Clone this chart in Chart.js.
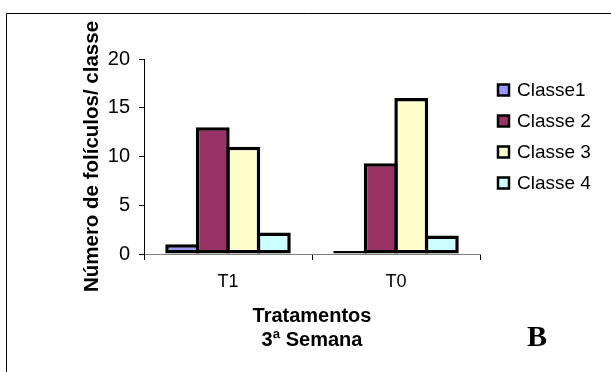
<!DOCTYPE html>
<html>
<head>
<meta charset="utf-8">
<script src="https://cdn.jsdelivr.net/npm/chart.js@4/dist/chart.umd.min.js"></script>
<style>
  html, body { margin: 0; padding: 0; background: #fff; }
  #wrap { width: 611px; height: 372px; position: relative; }
</style>
</head>
<body>
<div id="wrap"><canvas id="c" width="611" height="372"></canvas></div>
<script>
// Follicle counts per class, third week, by treatment
const categories = ['T1', 'T0'];
const seriesNames = ['Classe1', 'Classe 2', 'Classe 3', 'Classe 4'];
const classe1 = [1, 0.3];
const classe2 = [13, 9.3];
const classe3 = [11, 16];
const classe4 = [2.2, 1.9];
const yTicks = [0, 5, 10, 15, 20];
const yTitle = 'Número de folículos/ classe';
const xTitle = ['Tratamentos', '3ª Semana'];
const panelLetter = 'B';

const seriesColors = ['#9999FF', '#993366', '#FFFFCC', '#CCFFFF'];
const SANS = 'Arial, "Liberation Sans", sans-serif';

const seriesValues = [classe1, classe2, classe3, classe4];
const datasets = seriesNames.map((name, i) => ({
  label: name,
  data: seriesValues[i],
  backgroundColor: seriesColors[i],
  borderColor: '#000',
  borderWidth: 3.5,
  borderSkipped: false,
  categoryPercentage: 0.727,
  barPercentage: 1.11
}));

// Frame, legend and panel letter
const decorations = {
  id: 'decorations',
  beforeDraw(chart) {
    const ctx = chart.ctx;
    ctx.save();
    ctx.fillStyle = '#fff';
    ctx.fillRect(0, 0, chart.width, chart.height);
    ctx.strokeStyle = '#000';
    ctx.lineWidth = 1;
    ctx.beginPath();
    ctx.moveTo(6.5, chart.height);
    ctx.lineTo(6.5, 13.5);
    ctx.lineTo(chart.width, 13.5);
    ctx.stroke();
    ctx.restore();
  },
  afterDraw(chart) {
    const ctx = chart.ctx;
    ctx.save();
    const x0 = 498, y0 = 90, step = 31, box = 11;
    chart.data.datasets.forEach((ds, i) => {
      const cy = y0 + i * step;
      ctx.fillStyle = ds.backgroundColor;
      ctx.fillRect(x0, cy - box / 2, box, box);
      ctx.strokeStyle = '#000';
      ctx.lineWidth = 2.5;
      ctx.strokeRect(x0, cy - box / 2, box, box);
      ctx.fillStyle = '#000';
      ctx.font = '19px ' + SANS;
      ctx.textAlign = 'left';
      ctx.textBaseline = 'middle';
      ctx.fillText(ds.label, 517, cy + 1);
    });
    ctx.font = 'bold 30px "Times New Roman", "Liberation Serif", serif';
    ctx.textAlign = 'center';
    ctx.textBaseline = 'middle';
    ctx.fillText(panelLetter, 537, 338);
    ctx.restore();
  }
};

new Chart(document.getElementById('c'), {
  type: 'bar',
  data: { labels: categories, datasets },
  options: {
    responsive: false,
    animation: false,
    events: [],
    layout: { padding: { top: 59, right: 131, left: 69, bottom: 0 } },
    plugins: { legend: { display: false }, tooltip: { enabled: false } },
    scales: {
      x: {
        type: 'category',
        offset: true,
        grid: { offset: true, drawOnChartArea: false, drawTicks: true, tickLength: 6, color: '#000', lineWidth: 1 },
        border: { color: '#808080', width: 1 },
        ticks: { color: '#000', font: { family: SANS, size: 18 }, padding: 11 },
        title: {
          display: true,
          text: xTitle,
          color: '#000',
          font: { family: SANS, size: 20, weight: 'bold', lineHeight: 1.2 },
          padding: { top: 0, bottom: 20 }
        },
        afterFit(scale) { scale.height = 118; }
      },
      y: {
        min: 0,
        max: 20,
        afterBuildTicks(scale) { scale.ticks = yTicks.map(v => ({ value: v })); },
        grid: { drawOnChartArea: false, drawTicks: true, tickLength: 5, color: '#000', lineWidth: 1 },
        border: { color: '#000', width: 1 },
        ticks: { color: '#000', font: { family: SANS, size: 20 }, padding: 9 },
        title: {
          display: true,
          text: yTitle,
          color: '#000',
          font: { family: SANS, size: 20.5, weight: 'bold', lineHeight: 1.2 },
          padding: { top: 11, bottom: 0 }
        },
        afterFit(scale) { scale.width = 75; }
      }
    }
  },
  plugins: [decorations]
});
</script>
</body>
</html>
